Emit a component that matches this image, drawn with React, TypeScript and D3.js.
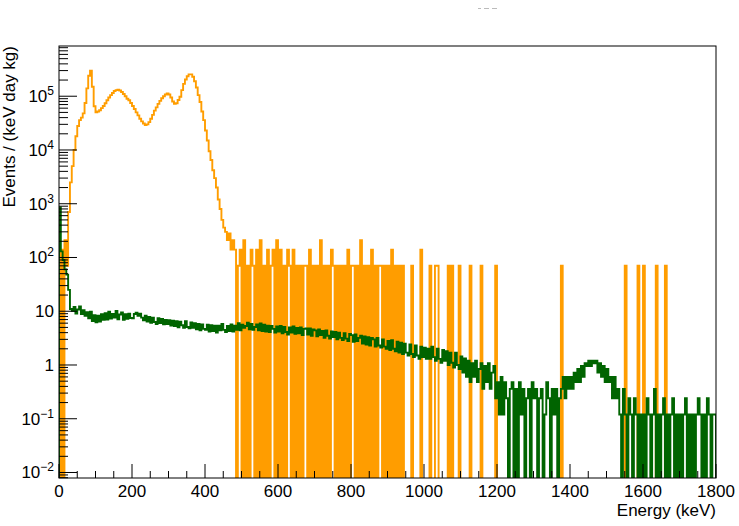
import React from "react";
import * as d3 from "d3";

// ---------------- data (5 keV bins) ----------------
const BIN_KEV = 5;

// orange spectrum, bins 0..475 keV, in events/(keV day kg)
const orangeLow = [
  0, 140, 0, 210, 70, 700, 2500, 5000, 10000, 18000, 28000, 36000, 40000, 48000, 75000, 140000, 240000, 300000, 150000, 65000,
  50000, 52000, 55000, 60000, 66000, 74000, 84000, 95000, 105000, 115000, 125000, 130000, 132000, 128000, 120000, 110000, 100000, 90000, 84000, 75000,
  66000, 58000, 50000, 44000, 38000, 34000, 31000, 29000, 30000, 33000, 38000, 45000, 54000, 62000, 72000, 82000, 92000, 100000, 108000, 113000,
  108000, 95000, 80000, 72000, 74000, 85000, 98000, 130000, 170000, 205000, 235000, 255000, 255000, 230000, 190000, 145000, 105000, 78000, 52000, 36000,
  23000, 15000, 9500, 6500, 4200, 3000, 2000, 1200, 800, 500, 360, 300, 210, 280, 140, 210,
];

// orange single-event level and counts per bin from 480 to 945 keV
const orangeUnit = 70;
const orangeMidCounts = [
  2, 0, 1, 2, 0, 3, 0, 1, 0, 2, 1, 0, 2, 0, 3, 0, 1, 0, 2, 0, 1, 2, 0, 3, 0, 2, 0, 1, 0, 2, 1, 0, 2, 0,
  1, 0, 1, 0, 1, 1, 0, 2, 0, 1, 0, 1, 0, 3, 0, 1, 0, 1, 0, 2, 1, 0, 1, 0, 1, 0, 1, 0, 2, 0,
  1, 1, 0, 1, 0, 3, 0, 1, 0, 1, 0, 2, 0, 1, 0, 1, 1, 0, 1, 0, 1, 0, 2, 0, 1, 0, 1, 0, 1, 0,
];
// isolated orange events above 945 keV (keV)
const orangeHits = [966, 991, 992, 1019, 1030, 1038, 1069, 1077, 1096, 1129, 1159, 1197, 1378, 1554, 1589, 1603, 1639, 1660];

// green spectrum, 0..1800 keV, 20 bins per row (100 keV)
const greenValues = [
  850, 130, 90, 60, 48, 25, 11, 10.2, 12.0, 9.1, 10.8, 12.3, 8.9, 10.5, 8.2, 9.6, 7.4, 9.8, 6.6, 8.4,
  6.2, 8.3, 6.4, 8.8, 6.9, 9.2, 7.0, 9.8, 7.3, 8.9, 7.6, 10.1, 7.1, 8.7, 9.5, 6.9, 8.8, 7.2, 9.0, 7.5,
  7.4, 8.9, 9.4, 8.2, 9.0, 7.6, 6.8, 8.3, 6.4, 7.8, 6.1, 7.6, 6.3, 5.8, 7.4, 6.0, 7.2, 5.7, 6.9, 5.8,
  6.8, 5.4, 6.7, 5.3, 6.5, 5.0, 6.4, 5.5, 4.9, 6.5, 5.1, 4.8, 6.2, 4.9, 6.0, 4.6, 5.8, 4.4, 5.7, 4.7,
  4.5, 5.6, 4.2, 5.5, 4.3, 5.4, 4.0, 5.4, 4.4, 5.8, 4.5, 4.1, 5.3, 4.3, 5.7, 4.2, 5.4, 4.5, 6.0, 4.4,
  5.6, 4.9, 5.3, 6.1, 4.6, 5.8, 4.5, 5.1, 5.7, 4.4, 5.9, 4.3, 5.6, 4.2, 5.4, 4.1, 5.3, 4.7, 4.0, 5.2,
  4.2, 5.3, 3.9, 5.1, 4.1, 3.7, 5.0, 4.0, 5.2, 3.8, 4.9, 3.9, 5.0, 3.6, 4.7, 4.8, 3.7, 4.8, 3.5, 4.6,
  4.4, 3.4, 4.6, 3.6, 4.3, 3.2, 4.4, 3.5, 3.1, 4.2, 3.3, 4.1, 3.0, 4.0, 3.2, 2.9, 3.9, 3.1, 2.8, 3.8,
  3.6, 2.7, 3.7, 2.8, 3.2, 3.5, 2.5, 3.4, 2.4, 3.3, 2.3, 3.2, 3.0, 2.2, 3.2, 2.3, 2.1, 3.0, 2.2, 2.0,
  2.8, 1.9, 2.9, 2.0, 1.8, 2.7, 1.7, 2.6, 1.6, 2.5, 1.7, 1.5, 2.4, 1.6, 1.4, 2.3, 1.5, 1.3, 2.2, 1.4,
  2.1, 1.3, 2.0, 1.3, 2.2, 1.4, 1.2, 2.0, 1.3, 1.1, 1.9, 1.2, 1.8, 1.0, 1.7, 1.1, 0.9, 1.7, 1.0, 0.84,
  1.44, 0.72, 1.32, 0.6, 1.2, 0.48, 1.08, 0.6, 1.2, 0.48, 0.84, 1.08, 0.36, 0.96, 0.48, 1.08, 0.36, 0.72, 0.96, 0.24,
  0.48, 0.12, 0.6, 0.12, 0.48, 0.24, 0, 0.36, 0.48, 0, 0.36, 0, 0.48, 0.12, 0.36, 0, 0.24, 0.36, 0, 0.48,
  0.24, 0.36, 0, 0.24, 0.36, 0, 0.12, 0.48, 0.24, 0, 0.36, 0.12, 0.36, 0, 0.24, 0.36, 0.6, 0.24, 0.6, 0.36,
  0.6, 0.36, 0.72, 0.48, 0.84, 0.48, 0.96, 0.6, 1.08, 0.96, 1.2, 0.96, 1.2, 1.08, 1.2, 0.72, 1.08, 0.6, 0.96, 0.48,
  0.84, 0.48, 0.6, 0.24, 0.6, 0.24, 0.36, 0.12, 0, 0.36, 0.12, 0, 0.24, 0.12, 0, 0.24, 0.12, 0, 0.12, 0,
  0.12, 0, 0.24, 0.12, 0, 0.12, 0.36, 0, 0.12, 0, 0.12, 0.24, 0, 0.12, 0, 0.12, 0.24, 0, 0.12, 0,
  0.12, 0, 0.12, 0.24, 0, 0.12, 0, 0.12, 0, 0.12, 0.24, 0.12, 0, 0.12, 0, 0.24, 0.12, 0, 0.12, 0.12,
];

const xTicks = [0, 200, 400, 600, 800, 1000, 1200, 1400, 1600, 1800];
const yDecades = [-2, -1, 0, 1, 2, 3, 4, 5];

// ---------------- layout ----------------
const W = 739, H = 526;
const L = 59, R = 716, T = 46, B = 478;
const FONT = "'Liberation Sans', Arial, Helvetica, sans-serif";

const x = d3.scaleLinear().domain([0, 1800]).range([L, R]);
const y = d3.scaleLog().domain([0.0079, 8.6e5]).range([B, T]);

// full orange bin array from the three pieces
const nBins = 1800 / BIN_KEV;
const orangeValues: number[] = d3.range(nBins).map((i) => {
  if (i < orangeLow.length) return orangeLow[i];
  const j = i - orangeLow.length;
  if (j < orangeMidCounts.length) return orangeMidCounts[j] * orangeUnit;
  return 0;
});
orangeHits.forEach((e) => {
  orangeValues[Math.floor(e / BIN_KEV)] += orangeUnit;
});

const yv = (v: number) => (v > 0 ? y(v) : B + 6);

function histPath(vals: number[]) {
  let d = `M${x(0)},${B + 6}`;
  vals.forEach((v, i) => {
    d += `V${yv(v).toFixed(2)}H${x((i + 1) * BIN_KEV).toFixed(2)}`;
  });
  return d + `V${B + 6}`;
}

function YLabel({ p }: { p: number }) {
  const yy = y(Math.pow(10, p)) + 6;
  if (p === 0 || p === 1)
    return (
      <text x={54} y={yy} textAnchor="end" fontSize={17}>
        {p === 0 ? "1" : "10"}
      </text>
    );
  return (
    <text x={54} y={yy} textAnchor="end" fontSize={17}>
      10
      <tspan dy={-7} fontSize={12}>
        {p < 0 ? "\u2212" + -p : String(p)}
      </tspan>
    </text>
  );
}

export default function App() {
  const yMinor: number[] = [];
  yDecades.concat([-3]).forEach((p) => {
    for (let k = 2; k <= 9; k++) {
      const v = k * Math.pow(10, p);
      if (v > y.domain()[0] && v < y.domain()[1]) yMinor.push(v);
    }
  });
  const xMinor = d3.range(0, 1801, 50).filter((v) => v % 200 !== 0);

  return (
    <svg
      width={W}
      height={H}
      style={{ position: "absolute", left: 0, top: 0, background: "#fff" }}
      fontFamily={FONT}
    >
      <defs>
        <clipPath id="frame">
          <rect x={L} y={T} width={R - L} height={B - T} />
        </clipPath>
      </defs>

      {/* remnant of a title cut off above the picture */}
      <g stroke="#bbb" strokeWidth={1}>
        <line x1={478} x2={481} y1={8.5} y2={8.5} />
        <line x1={484} x2={489} y1={8.5} y2={8.5} />
        <line x1={492} x2={497} y1={8.5} y2={8.5} />
      </g>

      <g clipPath="url(#frame)" fill="none" strokeLinejoin="miter">
        <path d={histPath(orangeValues)} stroke="#ff9d00" strokeWidth={1.9} />
        <path d={histPath(greenValues)} stroke="#006400" strokeWidth={1.9} />
      </g>

      {/* frame */}
      <rect x={L} y={T} width={R - L} height={B - T} fill="none" stroke="#000" strokeWidth={1} />

      {/* ticks */}
      <g stroke="#000" strokeWidth={1}>
        {xTicks.map((t) => (
          <line key={"xM" + t} x1={x(t)} x2={x(t)} y1={B} y2={B - 14} />
        ))}
        {xMinor.map((t) => (
          <line key={"xm" + t} x1={x(t)} x2={x(t)} y1={B} y2={B - 7} />
        ))}
        {yDecades.map((p) => (
          <line key={"yM" + p} x1={L} x2={L + 18} y1={y(Math.pow(10, p))} y2={y(Math.pow(10, p))} />
        ))}
        {yMinor.map((v, i) => (
          <line key={"ym" + i} x1={L} x2={L + 9} y1={y(v)} y2={y(v)} />
        ))}
      </g>

      {xTicks.map((t) => (
        <text key={"xl" + t} x={x(t)} y={497} textAnchor="middle" fontSize={17}>
          {t}
        </text>
      ))}
      {yDecades.map((p) => (
        <YLabel key={"yl" + p} p={p} />
      ))}

      <text x={R} y={516} textAnchor="end" fontSize={17}>
        Energy (keV)
      </text>
      <text transform={`translate(15,${T}) rotate(-90)`} textAnchor="end" fontSize={17}>
        Events / (keV day kg)
      </text>
    </svg>
  );
}
